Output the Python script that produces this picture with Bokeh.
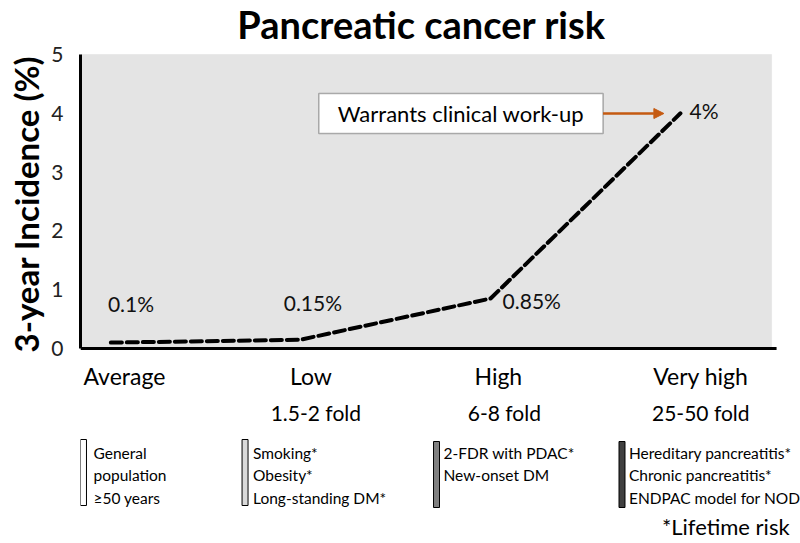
from bokeh.plotting import figure
from bokeh.models import (ColumnDataSource, Range1d, FixedTicker, BoxAnnotation,
                          Arrow, NormalHead, Title)
from bokeh.embed import file_html
from bokeh.resources import INLINE

# ---------------- data ----------------
categories = ["Average", "Low", "High", "Very high"]
incidence = [0.1, 0.15, 0.85, 4.0]
incidence_labels = ["0.1%", "0.15%", "0.85%", "4%"]
fold_labels = ["", "1.5-2 fold", "6-8 fold", "25-50 fold"]
risk_factors = [
    ["General", "population", "\u226550 years"],
    ["Smoking*", "Obesity*", "Long-standing DM*"],
    ["2-FDR with PDAC*", "New-onset DM"],
    ["Hereditary pancreatitis*", "Chronic pancreatitis*", "ENDPAC model for NOD"],
]
group_colors = ["#ffffff", "#d9d9d9", "#808080", "#404040"]
y_ticks = [0, 1, 2, 3, 4, 5]
title_text = "Pancreatic cancer risk"
y_label_text = "3-year Incidence (%)"
annotation_text = "Warrants clinical work-up"
footnote = "*Lifetime risk"

FONT = "Lato"
W, H = 800, 543

# chart-area geometry (canvas px)
X0, X1 = -0.16, 3.48      # x extent of the grey chart area
Y0, Y1 = 0.0, 5.0         # y extent of the grey chart area
FL, FR = 78, 771
FT, FB = 54, 348


def px_x(px):
    return X0 + (px - FL) / (FR - FL) * (X1 - X0)


def px_y(py):
    return Y0 + (FB - py) / (FB - FT) * (Y1 - Y0)


p = figure(width=W, height=H, output_backend="svg", toolbar_location=None,
           x_range=Range1d(X0, px_x(W)), y_range=Range1d(px_y(H), px_y(0)),
           x_axis_location=None,
           min_border_left=FL, min_border_right=0,
           min_border_top=0, min_border_bottom=0)
p.background_fill_color = "white"
p.border_fill_color = "white"
p.outline_line_color = None
p.grid.visible = False

# grey chart area
p.add_layout(BoxAnnotation(left=X0, right=X1, bottom=Y0, top=Y1,
                           fill_color="#e4e4e4", fill_alpha=1.0,
                           line_color="#d6d6d6", line_width=1, level="underlay"))

ya = p.yaxis[0]
ya.ticker = FixedTicker(ticks=y_ticks)
ya.bounds = (Y0, Y1)
ya.major_label_text_font = FONT
ya.major_label_text_font_size = "21px"
ya.major_label_text_color = "#222222"
ya.axis_line_width = 3
ya.axis_line_color = "black"
ya.major_tick_line_color = None
ya.minor_tick_line_color = None
ya.major_tick_out = 0
ya.major_tick_in = 0
ya.minor_tick_out = 0
ya.major_label_standoff = 17

# y-axis title in the left panel, starting at the bottom of the grey area
p.add_layout(Title(text=y_label_text, align="left", offset=H - 352,
                   standoff=6, text_font=FONT, text_font_size="33px",
                   text_font_style="bold", text_color="black"), "left")

# x baseline
p.segment(x0=[X0], y0=[Y0], x1=[px_x(776)], y1=[Y0], line_color="black",
          line_width=3)

# title
p.text([px_x(420)], [px_y(23)], text=[title_text], text_font={"value": FONT},
       text_font_size="38px", text_font_style="bold", text_align="center",
       text_baseline="middle", text_color="black")

# series
src = ColumnDataSource(dict(
    x=list(range(len(categories))), y=incidence, label=incidence_labels,
    xo=[-3, -17, 12, 9], yo=[-39, -37, 2, -3],
))
p.line("x", "y", source=src, line_color="black", line_width=4,
       line_dash="11 5", line_cap="round")
p.text("x", "y", text="label", source=src, x_offset="xo", y_offset="yo",
       text_font={"value": FONT}, text_font_size="21px",
       text_baseline="middle", text_align="left", text_color="#111111")

# call-out box + arrow
p.add_layout(BoxAnnotation(left=px_x(317), right=px_x(602), top=px_y(93),
                           bottom=px_y(133), fill_color="white", fill_alpha=1.0,
                           line_color="black", line_width=1.5, level="underlay"))
p.text([px_x(459.5)], [px_y(113)], text=[annotation_text],
       text_font={"value": FONT}, text_font_size="22px", text_align="center",
       text_baseline="middle", text_color="black")
p.add_layout(Arrow(x_start=px_x(602), y_start=px_y(113), x_end=px_x(663),
                   y_end=px_y(113), line_color="#c55a11", line_width=2.5,
                   end=NormalHead(size=10, fill_color="#c55a11",
                                  line_color="#c55a11")))

# category and fold labels below the axis
p.text([px_x(v) for v in (122, 309, 497, 700)], [px_y(375)] * 4, text=categories,
       text_font={"value": FONT}, text_font_size="23px", text_align="center",
       text_baseline="middle", text_color="black")
p.text([px_x(v) for v in (122, 314, 503, 700)], [px_y(412)] * 4, text=fold_labels,
       text_font={"value": FONT}, text_font_size="21px", text_align="center",
       text_baseline="middle", text_color="black")

# group bars
bar_left = [78, 240, 432, 618]
bar_top = [439, 439, 441, 441]
bar_bottom = [505, 505, 507, 507]
p.quad(left=[px_x(b) for b in bar_left], right=[px_x(b + 6) for b in bar_left],
       top=[px_y(t) for t in bar_top], bottom=[px_y(b) for b in bar_bottom],
       fill_color=group_colors, line_color="black", line_width=1)

# risk factor lists
text_left = [91, 251, 442, 628]
lx, ly, lt = [], [], []
for g, lines in enumerate(risk_factors):
    for i, s in enumerate(lines):
        lx.append(px_x(text_left[g]))
        ly.append(px_y(452 + 22.5 * i))
        lt.append(s)
p.text(lx, ly, text=lt, text_font={"value": FONT}, text_font_size="15.5px",
       text_align="left", text_baseline="middle", text_color="black")
p.text([px_x(661)], [px_y(526)], text=[footnote], text_font={"value": FONT},
       text_font_size="22px", text_align="left", text_baseline="middle",
       text_color="black")

open("out.html", "w").write(file_html(p, INLINE))
